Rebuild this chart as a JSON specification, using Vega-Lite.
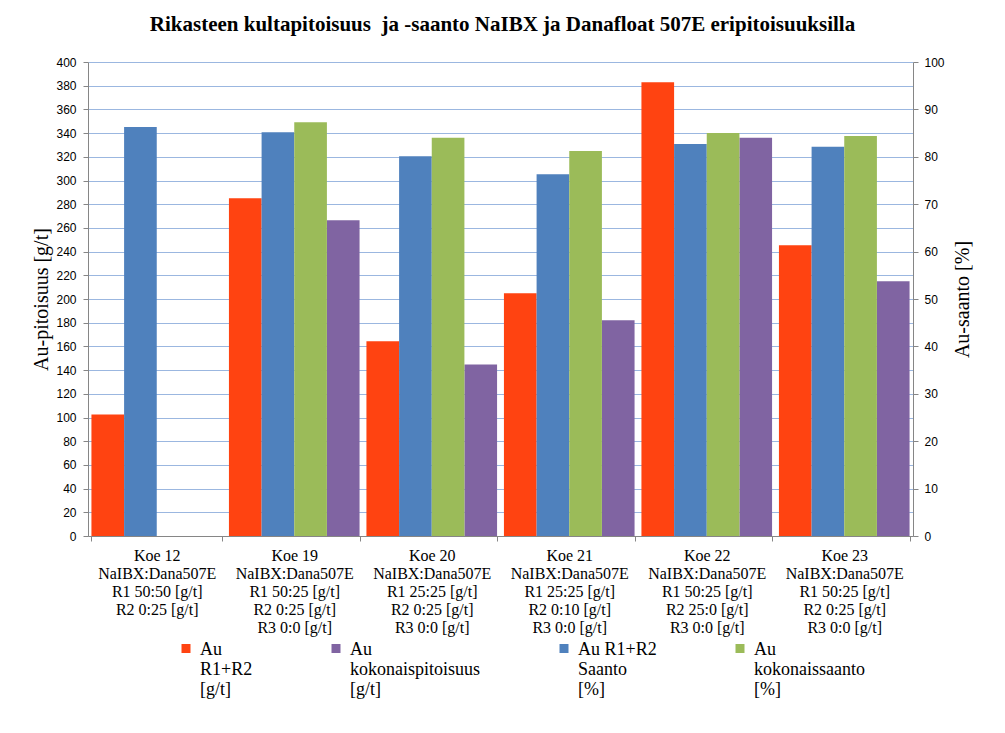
{
  "$schema": "https://vega.github.io/schema/vega-lite/v6.json",
  "autosize": "none",
  "width": 825,
  "height": 474,
  "padding": {"left": 88, "top": 62, "right": 92, "bottom": 197},
  "background": "white",
  "title": {
    "text": "Rikasteen kultapitoisuus\u00a0 ja -saanto NaIBX ja Danafloat 507E eripitoisuuksilla",
    "font": "Liberation Serif",
    "fontSize": 21,
    "fontWeight": "bold",
    "color": "black",
    "anchor": "middle",
    "offset": 21,
    "dx": 2
  },
  "config": {
    "view": {"stroke": null},
    "axis": {"domainColor": "#868686", "tickColor": "#868686"}
  },
  "data": {
    "values": [
      {"koe": "Koe 12|NaIBX:Dana507E|R1 50:50 [g/t]|R2 0:25 [g/t]", "series": "Au R1+R2 [g/t]", "axis": "left", "value": 102.5},
      {"koe": "Koe 12|NaIBX:Dana507E|R1 50:50 [g/t]|R2 0:25 [g/t]", "series": "Au R1+R2 Saanto [%]", "axis": "right", "value": 86.3},
      {"koe": "Koe 19|NaIBX:Dana507E|R1 50:25 [g/t]|R2 0:25 [g/t]|R3 0:0 [g/t]", "series": "Au R1+R2 [g/t]", "axis": "left", "value": 285},
      {"koe": "Koe 19|NaIBX:Dana507E|R1 50:25 [g/t]|R2 0:25 [g/t]|R3 0:0 [g/t]", "series": "Au R1+R2 Saanto [%]", "axis": "right", "value": 85.2},
      {"koe": "Koe 19|NaIBX:Dana507E|R1 50:25 [g/t]|R2 0:25 [g/t]|R3 0:0 [g/t]", "series": "Au kokonaissaanto [%]", "axis": "right", "value": 87.3},
      {"koe": "Koe 19|NaIBX:Dana507E|R1 50:25 [g/t]|R2 0:25 [g/t]|R3 0:0 [g/t]", "series": "Au kokonaispitoisuus [g/t]", "axis": "left", "value": 266.5},
      {"koe": "Koe 20|NaIBX:Dana507E|R1 25:25 [g/t]|R2 0:25 [g/t]|R3 0:0 [g/t]", "series": "Au R1+R2 [g/t]", "axis": "left", "value": 164.3},
      {"koe": "Koe 20|NaIBX:Dana507E|R1 25:25 [g/t]|R2 0:25 [g/t]|R3 0:0 [g/t]", "series": "Au R1+R2 Saanto [%]", "axis": "right", "value": 80.1},
      {"koe": "Koe 20|NaIBX:Dana507E|R1 25:25 [g/t]|R2 0:25 [g/t]|R3 0:0 [g/t]", "series": "Au kokonaissaanto [%]", "axis": "right", "value": 84.0},
      {"koe": "Koe 20|NaIBX:Dana507E|R1 25:25 [g/t]|R2 0:25 [g/t]|R3 0:0 [g/t]", "series": "Au kokonaispitoisuus [g/t]", "axis": "left", "value": 144.8},
      {"koe": "Koe 21|NaIBX:Dana507E|R1 25:25 [g/t]|R2 0:10 [g/t]|R3 0:0 [g/t]", "series": "Au R1+R2 [g/t]", "axis": "left", "value": 204.8},
      {"koe": "Koe 21|NaIBX:Dana507E|R1 25:25 [g/t]|R2 0:10 [g/t]|R3 0:0 [g/t]", "series": "Au R1+R2 Saanto [%]", "axis": "right", "value": 76.3},
      {"koe": "Koe 21|NaIBX:Dana507E|R1 25:25 [g/t]|R2 0:10 [g/t]|R3 0:0 [g/t]", "series": "Au kokonaissaanto [%]", "axis": "right", "value": 81.2},
      {"koe": "Koe 21|NaIBX:Dana507E|R1 25:25 [g/t]|R2 0:10 [g/t]|R3 0:0 [g/t]", "series": "Au kokonaispitoisuus [g/t]", "axis": "left", "value": 182},
      {"koe": "Koe 22|NaIBX:Dana507E|R1 50:25 [g/t]|R2 25:0 [g/t]|R3 0:0 [g/t]", "series": "Au R1+R2 [g/t]", "axis": "left", "value": 383},
      {"koe": "Koe 22|NaIBX:Dana507E|R1 50:25 [g/t]|R2 25:0 [g/t]|R3 0:0 [g/t]", "series": "Au R1+R2 Saanto [%]", "axis": "right", "value": 82.7},
      {"koe": "Koe 22|NaIBX:Dana507E|R1 50:25 [g/t]|R2 25:0 [g/t]|R3 0:0 [g/t]", "series": "Au kokonaissaanto [%]", "axis": "right", "value": 85.0},
      {"koe": "Koe 22|NaIBX:Dana507E|R1 50:25 [g/t]|R2 25:0 [g/t]|R3 0:0 [g/t]", "series": "Au kokonaispitoisuus [g/t]", "axis": "left", "value": 336},
      {"koe": "Koe 23|NaIBX:Dana507E|R1 50:25 [g/t]|R2 0:25 [g/t]|R3 0:0 [g/t]", "series": "Au R1+R2 [g/t]", "axis": "left", "value": 245.4},
      {"koe": "Koe 23|NaIBX:Dana507E|R1 50:25 [g/t]|R2 0:25 [g/t]|R3 0:0 [g/t]", "series": "Au R1+R2 Saanto [%]", "axis": "right", "value": 82.1},
      {"koe": "Koe 23|NaIBX:Dana507E|R1 50:25 [g/t]|R2 0:25 [g/t]|R3 0:0 [g/t]", "series": "Au kokonaissaanto [%]", "axis": "right", "value": 84.4},
      {"koe": "Koe 23|NaIBX:Dana507E|R1 50:25 [g/t]|R2 0:25 [g/t]|R3 0:0 [g/t]", "series": "Au kokonaispitoisuus [g/t]", "axis": "left", "value": 215}
    ]
  },
  "encoding": {
    "x": {
      "field": "koe",
      "type": "nominal",
      "sort": null,
      "scale": {"paddingInner": 0.05, "paddingOuter": 0.025},
      "axis": {
        "title": null,
        "labelAngle": 0,
        "labelExpr": "split(datum.label, '|')",
        "labelFont": "Liberation Serif",
        "labelFontSize": 16,
        "labelLineHeight": 18,
        "labelColor": "black",
        "labelPadding": 6,
        "labelBaseline": "top",
        "labelLimit": 200,
        "tickBand": "extent",
        "tickSize": 5,
        "domainColor": "#868686",
        "tickColor": "#868686"
      }
    },
    "xOffset": {
      "field": "series",
      "type": "nominal",
      "scale": {"domain": ["Au R1+R2 [g/t]", "Au R1+R2 Saanto [%]", "Au kokonaissaanto [%]", "Au kokonaispitoisuus [g/t]"], "paddingInner": 0, "paddingOuter": 0}
    },
    "color": {
      "field": "series",
      "type": "nominal",
      "scale": {
        "domain": ["Au R1+R2 [g/t]", "Au kokonaispitoisuus [g/t]", "Au R1+R2 Saanto [%]", "Au kokonaissaanto [%]"],
        "range": ["#FF4311", "#8064A2", "#4F81BD", "#9BBB59"]
      },
      "legend": {
        "title": null,
        "orient": "none",
        "legendX": 89,
        "legendY": 584,
        "direction": "horizontal",
        "columns": 4,
        "columnPadding": 74,
        "symbolType": "M-1,-2.44H1V-0.44H-1Z",
        "symbolSize": 81,
        "symbolStrokeWidth": 0,
        "labelFont": "Liberation Serif",
        "labelFontSize": 18,
        "labelLineHeight": 21,
        "labelColor": "black",
        "labelBaseline": "alphabetic",
        "labelOffset": 5,
        "labelLimit": 200,
        "labelExpr": "datum.label == 'Au R1+R2 [g/t]' ? ['Au', 'R1+R2', '[g/t]'] : datum.label == 'Au kokonaispitoisuus [g/t]' ? ['Au', 'kokonaispitoisuus', '[g/t]'] : datum.label == 'Au R1+R2 Saanto [%]' ? ['Au R1+R2', 'Saanto', '[%]'] : ['Au', 'kokonaissaanto', '[%]']"
      }
    }
  },
  "layer": [
    {
      "transform": [{"filter": "datum.axis == 'left'"}],
      "mark": {"type": "bar"},
      "encoding": {
        "y": {
          "field": "value",
          "type": "quantitative",
          "scale": {"domain": [0, 400], "nice": false},
          "axis": {
            "title": "Au-pitoisuus [g/t]",
            "titleFont": "Liberation Serif",
            "titleFontSize": 20,
            "titleFontWeight": "normal",
            "titleColor": "black",
            "titlePadding": 4,
            "values": [0, 20, 40, 60, 80, 100, 120, 140, 160, 180, 200, 220, 240, 260, 280, 300, 320, 340, 360, 380, 400],
            "labelFont": "Liberation Sans",
            "labelFontSize": 12,
            "labelColor": "black",
            "labelPadding": 7,
            "tickSize": 5,
            "grid": true,
            "gridColor": "#9BB7E0",
            "gridWidth": 1
          }
        }
      }
    },
    {
      "transform": [{"filter": "datum.axis == 'right'"}],
      "mark": {"type": "bar"},
      "encoding": {
        "y": {
          "field": "value",
          "type": "quantitative",
          "scale": {"domain": [0, 100], "nice": false},
          "axis": {
            "orient": "right",
            "title": "Au-saanto [%]",
            "titleFont": "Liberation Serif",
            "titleFontSize": 20,
            "titleFontWeight": "normal",
            "titleColor": "black",
            "titleAngle": 270,
            "titleBaseline": "top",
            "titlePadding": 8,
            "values": [0, 10, 20, 30, 40, 50, 60, 70, 80, 90, 100],
            "labelFont": "Liberation Sans",
            "labelFontSize": 12,
            "labelColor": "black",
            "labelPadding": 6,
            "tickSize": 5,
            "grid": false
          }
        }
      }
    }
  ],
  "resolve": {"scale": {"y": "independent"}}
}
